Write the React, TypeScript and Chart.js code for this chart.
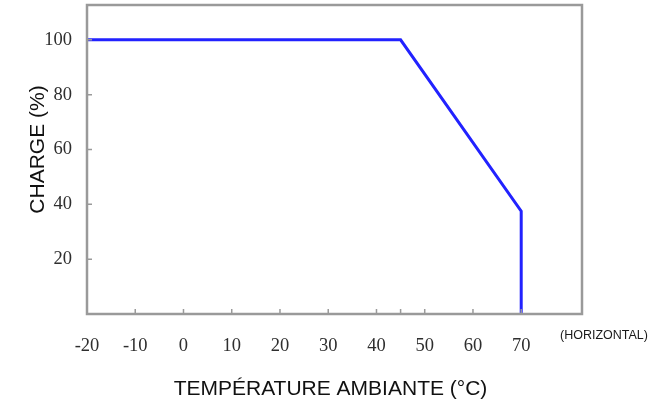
import React, { useEffect, useRef } from "react";
import { Chart, registerables } from "chart.js";

Chart.register(...registerables);

// Data
const temperatures = [-20, 45, 70, 70];
const loads = [100, 100, 37.5, 0];

// Axis ticks
const xTickValues = [-20, -10, 0, 10, 20, 30, 40, 45, 50, 60, 70];
const xTickLabels = ["-20", "-10", "0", "10", "20", "30", "40", "", "50", "60", "70"];
const yTickValues = [20, 40, 60, 80, 100];
const yTickLabels = ["20", "40", "60", "80", "100"];

const xMin = -20;
const xMax = 82.6;
const yMin = 0;
const yMax = 112.7;

const xTitle = "TEMPÉRATURE AMBIANTE (°C)";
const yTitle = "CHARGE (%)";
const xNote = "(HORIZONTAL)";

const frameColor = "#9a9a9a";
const labelColor = "#2e2e2e";

const decorPlugin = {
  id: "decor",
  afterDraw(chart: any) {
    const { ctx, chartArea, scales } = chart;
    const { left, right, top, bottom } = chartArea;
    ctx.save();
    // frame
    ctx.strokeStyle = frameColor;
    ctx.lineWidth = 2.5;
    ctx.strokeRect(left, top, right - left, bottom - top);
    // inside tick marks
    ctx.lineWidth = 1.5;
    ctx.beginPath();
    xTickValues.forEach((v) => {
      const px = scales.x.getPixelForValue(v);
      ctx.moveTo(px, bottom);
      ctx.lineTo(px, bottom - 5);
    });
    yTickValues.forEach((v) => {
      const py = scales.y.getPixelForValue(v);
      ctx.moveTo(left, py);
      ctx.lineTo(left + 5, py);
    });
    ctx.stroke();
    // titles
    ctx.fillStyle = "#111";
    ctx.font = '21px "Liberation Sans", Arial, sans-serif';
    ctx.textAlign = "center";
    ctx.textBaseline = "middle";
    ctx.fillText(xTitle, (left + right) / 2 - 4, 389);
    ctx.save();
    ctx.translate(38, (top + bottom) / 2 - 10);
    ctx.rotate(-Math.PI / 2);
    ctx.fillText(yTitle, 0, 0);
    ctx.restore();
    ctx.fillStyle = "#1a1a1a";
    ctx.font = '12.5px "Liberation Sans", Arial, sans-serif';
    ctx.textAlign = "left";
    ctx.fillText(xNote, right - 22, bottom + 22);
    ctx.restore();
  },
};

export default function App() {
  const ref = useRef<HTMLCanvasElement | null>(null);
  useEffect(() => {
    if (!ref.current) return;
    const chart = new Chart(ref.current, {
      type: "scatter",
      data: {
        datasets: [
          {
            data: temperatures.map((t, i) => ({ x: t, y: loads[i] })),
            showLine: true,
            borderColor: "#2222ff",
            borderWidth: 3,
            pointRadius: 0,
            fill: false,
            tension: 0,
          },
        ],
      },
      options: {
        animation: false,
        responsive: false,
        devicePixelRatio: 1,
        layout: { padding: { left: 0, right: 71, top: 5, bottom: 0 } },
        plugins: { legend: { display: false }, tooltip: { enabled: false } },
        scales: {
          x: {
            type: "linear",
            min: xMin,
            max: xMax,
            afterBuildTicks: (scale: any) => {
              scale.ticks = xTickValues.map((v) => ({ value: v }));
            },
            afterFit: (scale: any) => {
              scale.height = 89;
              scale.paddingLeft = 0;
              scale.paddingRight = 0;
            },
            grid: { display: false, drawTicks: false },
            border: { display: false },
            ticks: {
              padding: 21,
              maxRotation: 0,
              autoSkip: false,
              color: labelColor,
              font: { family: '"Liberation Serif", "Times New Roman", serif', size: 18.5 },
              callback: (v: any) => {
                const i = xTickValues.indexOf(Number(v));
                return i >= 0 ? xTickLabels[i] : "";
              },
            },
          },
          y: {
            type: "linear",
            min: yMin,
            max: yMax,
            afterBuildTicks: (scale: any) => {
              scale.ticks = yTickValues.map((v) => ({ value: v }));
            },
            afterFit: (scale: any) => {
              scale.width = 87;
              scale.paddingTop = 0;
              scale.paddingBottom = 0;
            },
            grid: { display: false, drawTicks: false },
            border: { display: false },
            ticks: {
              padding: 15,
              autoSkip: false,
              color: labelColor,
              font: { family: '"Liberation Serif", "Times New Roman", serif', size: 18.5 },
              callback: (v: any) => {
                const i = yTickValues.indexOf(Number(v));
                return i >= 0 ? yTickLabels[i] : "";
              },
            },
          },
        },
      },
      plugins: [decorPlugin],
    });
    return () => chart.destroy();
  }, []);
  return (
    <div style={{ position: "fixed", left: 0, top: 0, width: 653, height: 403, background: "#fff" }}>
      <canvas ref={ref} width={653} height={403} />
    </div>
  );
}
